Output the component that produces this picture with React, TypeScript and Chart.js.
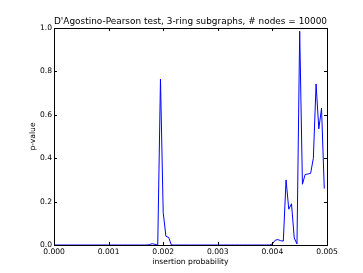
import React, { useEffect, useRef } from "react";
import { Chart, registerables } from "chart.js";

Chart.register(...registerables);

const insertionProbability = [
  0.0, 0.00005, 0.0001, 0.00015, 0.0002, 0.00025, 0.0003, 0.00035, 0.0004, 0.00045,
  0.0005, 0.00055, 0.0006, 0.00065, 0.0007, 0.00075, 0.0008, 0.00085, 0.0009, 0.00095,
  0.001, 0.00105, 0.0011, 0.00115, 0.0012, 0.00125, 0.0013, 0.00135, 0.0014, 0.00145,
  0.0015, 0.00155, 0.0016, 0.00165, 0.0017, 0.00175, 0.0018, 0.00185, 0.0019, 0.00195,
  0.002, 0.00205, 0.0021, 0.00215, 0.0022, 0.00225, 0.0023, 0.00235, 0.0024, 0.00245,
  0.0025, 0.00255, 0.0026, 0.00265, 0.0027, 0.00275, 0.0028, 0.00285, 0.0029, 0.00295,
  0.003, 0.00305, 0.0031, 0.00315, 0.0032, 0.00325, 0.0033, 0.00335, 0.0034, 0.00345,
  0.0035, 0.00355, 0.0036, 0.00365, 0.0037, 0.00375, 0.0038, 0.00385, 0.0039, 0.00395,
  0.004, 0.00405, 0.0041, 0.00415, 0.0042, 0.00425, 0.0043, 0.00435, 0.0044, 0.00445,
  0.0045, 0.00455, 0.0046, 0.00465, 0.0047, 0.00475, 0.0048, 0.00485, 0.0049, 0.00495,
];

const pValue = [
  0, 0, 0, 0, 0, 0, 0, 0, 0, 0,
  0, 0, 0, 0, 0, 0, 0, 0, 0, 0,
  0, 0, 0, 0, 0, 0, 0, 0, 0, 0,
  0, 0, 0, 0, 0, 0.002, 0.006, 0.003, 0.0, 0.765,
  0.15, 0.04, 0.035, 0.0, 0, 0, 0, 0, 0, 0,
  0, 0, 0, 0, 0, 0, 0, 0, 0, 0,
  0, 0, 0, 0, 0, 0, 0, 0, 0, 0,
  0, 0, 0, 0, 0, 0, 0, 0, 0, 0,
  0.005, 0.022, 0.025, 0.02, 0.018, 0.3, 0.165, 0.19, 0.032, 0.005,
  0.985, 0.28, 0.325, 0.327, 0.33, 0.4, 0.742, 0.535, 0.63, 0.26,
];

const xTicks = [0, 0.001, 0.002, 0.003, 0.004, 0.005];
const yTicks = [0, 0.2, 0.4, 0.6, 0.8, 1.0];

const TITLE = "D'Agostino-Pearson test, 3-ring subgraphs, # nodes = 10000";
const X_LABEL = "insertion probability";
const Y_LABEL = "p-value";

const FONT = "'DejaVu Sans', sans-serif";

const framePlugin = {
  id: "mplFrame",
  afterDraw(chart: any) {
    const { ctx, chartArea } = chart;
    const { left, right, top, bottom } = chartArea;
    const xs = chart.scales.x;
    const ys = chart.scales.y;
    const tl = 3;
    ctx.save();
    ctx.strokeStyle = "#000000";
    ctx.lineWidth = 1;
    ctx.beginPath();
    for (const v of xTicks) {
      const px = Math.round(xs.getPixelForValue(v)) + 0.5;
      ctx.moveTo(px, bottom);
      ctx.lineTo(px, bottom - tl);
      ctx.moveTo(px, top);
      ctx.lineTo(px, top + tl);
    }
    for (const v of yTicks) {
      const py = Math.round(ys.getPixelForValue(v)) + 0.5;
      ctx.moveTo(left, py);
      ctx.lineTo(left + tl, py);
      ctx.moveTo(right, py);
      ctx.lineTo(right - tl, py);
    }
    ctx.stroke();
    ctx.strokeRect(Math.round(left) + 0.5, Math.round(top) + 0.5, Math.round(right - left), Math.round(bottom - top));
    ctx.restore();
  },
};

export default function App() {
  const ref = useRef<HTMLCanvasElement | null>(null);

  useEffect(() => {
    document.body.style.margin = "0";
    const canvas = ref.current;
    if (!canvas) return;
    const data = insertionProbability.map((x, i) => ({ x, y: pValue[i] }));
    const chart = new Chart(canvas, {
      type: "line",
      data: {
        datasets: [
          {
            data,
            borderColor: "#0000ff",
            borderWidth: 1,
            pointRadius: 0,
            tension: 0,
            fill: false,
          },
        ],
      },
      options: {
        animation: false,
        responsive: false,
        maintainAspectRatio: false,
        layout: { padding: { left: 0, right: 36, top: 0, bottom: 0 } },
        plugins: {
          legend: { display: false },
          tooltip: { enabled: false },
          title: {
            display: true,
            text: TITLE,
            fullSize: false,
            color: "#000000",
            font: { family: FONT, size: 9.4, weight: "normal" },
            padding: { top: 16.2, bottom: 0.5 },
          },
        },
        scales: {
          x: {
            type: "linear",
            min: 0,
            max: 0.005,
            afterBuildTicks(scale: any) {
              scale.ticks = xTicks.map((v) => ({ value: v }));
            },
            afterFit(scale: any) {
              scale.height = 28;
            },
            grid: { display: false, drawTicks: false },
            border: { display: false },
            ticks: {
              color: "#000000",
              font: { family: FONT, size: 7.6 },
              padding: 2,
              maxRotation: 0,
              autoSkip: false,
              callback: (v: any) => Number(v).toFixed(3),
            },
            title: {
              display: true,
              text: X_LABEL,
              color: "#000000",
              font: { family: FONT, size: 7.6 },
              padding: { top: 0, bottom: 6 },
            },
          },
          y: {
            type: "linear",
            min: 0,
            max: 1,
            afterBuildTicks(scale: any) {
              scale.ticks = yTicks.map((v) => ({ value: v }));
            },
            afterFit(scale: any) {
              scale.width = 54;
            },
            grid: { display: false, drawTicks: false },
            border: { display: false },
            ticks: {
              color: "#000000",
              font: { family: FONT, size: 7.6 },
              padding: 2,
              autoSkip: false,
              callback: (v: any) => Number(v).toFixed(1),
            },
            title: {
              display: true,
              text: Y_LABEL,
              color: "#000000",
              font: { family: FONT, size: 7.6 },
              padding: { top: 28.5, bottom: 0 },
            },
          },
        },
      },
      plugins: [framePlugin],
    });
    return () => chart.destroy();
  }, []);

  return (
    <div style={{ width: 363, height: 273, background: "#ffffff" }}>
      <canvas ref={ref} width={363} height={273} style={{ display: "block", width: 363, height: 273 }} />
    </div>
  );
}
